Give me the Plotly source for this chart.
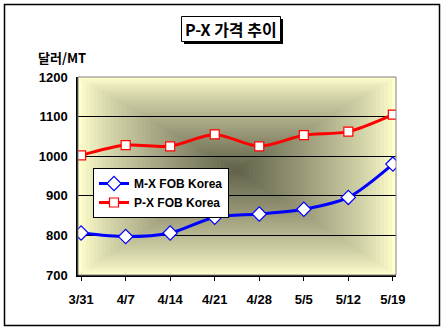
import plotly.graph_objects as go

categories = ["3/31", "4/7", "4/14", "4/21", "4/28", "5/5", "5/12", "5/19"]
mx_values = [806, 797, 806, 846, 854, 866, 896, 980]
px_values = [1002, 1028, 1025, 1055, 1025, 1053, 1062, 1105]
y_ticks = [700, 800, 900, 1000, 1100, 1200]

W, H = 445, 333
L, R, T, B = 78, 49, 77, 58

x_idx = list(range(len(categories)))

fig = go.Figure()
fig.add_trace(go.Scatter(
    x=x_idx, y=mx_values, name="M-X FOB Korea", mode="lines+markers",
    line=dict(color="#0000FF", width=3, shape="spline", smoothing=0.8),
    marker=dict(symbol="diamond", size=11, color="white", line=dict(color="#0000FF", width=1.2)),
))
fig.add_trace(go.Scatter(
    x=x_idx, y=px_values, name="P-X FOB Korea", mode="lines+markers",
    line=dict(color="#FF0000", width=3, shape="spline", smoothing=0.8),
    marker=dict(symbol="square", size=9, color="white", line=dict(color="#FF0000", width=1.2)),
))

def px2x(p):
    return (p - L) / (W - L - R)
def py2y(p):
    return 1 - (p - T) / (H - T - B)

# rectangular gradient background (styling)
shapes = []
cx, cy = 0.50, 0.53
N = 40
edge = (255, 255, 206)
center = (100, 100, 76)
for i in range(N):
    f = 1 - i / N
    t = (i / (N - 1)) ** 0.8
    c = tuple(round(edge[k] + (center[k] - edge[k]) * t) for k in range(3))
    shapes.append(dict(
        type="rect", xref="x domain", yref="y domain", layer="below",
        x0=cx - f * cx, x1=cx + f * (1 - cx), y0=cy - f * cy, y1=cy + f * (1 - cy),
        fillcolor="rgb(%d,%d,%d)" % c, line=dict(width=0),
    ))
# plot area border (gray)
shapes.append(dict(type="rect", xref="x domain", yref="y domain", x0=0, x1=1, y0=0, y1=1,
                   line=dict(color="#808080", width=1), layer="above"))
# outer border
shapes.append(dict(type="rect", xref="paper", yref="paper",
                   x0=px2x(4.5), x1=px2x(439.5), y0=py2y(325.5), y1=py2y(4.5),
                   line=dict(color="black", width=1.5)))
# title box with shadow
shapes.append(dict(type="rect", xref="paper", yref="paper",
                   x0=px2x(184), x1=px2x(283), y0=py2y(44), y1=py2y(19),
                   fillcolor="black", line=dict(width=0)))
shapes.append(dict(type="rect", xref="paper", yref="paper",
                   x0=px2x(181.5), x1=px2x(280.5), y0=py2y(41.5), y1=py2y(16.5),
                   fillcolor="white", line=dict(color="black", width=1)))

annotations = [
    dict(text="<b>P-X 가격 추이</b>", xref="paper", yref="paper", x=px2x(231), y=py2y(29),
         showarrow=False, font=dict(family="Noto Sans CJK KR, Arial", size=16, color="black"),
         xanchor="center", yanchor="middle"),
    dict(text="<b>달러/MT</b>", xref="paper", yref="paper", x=px2x(36), y=py2y(58),
         showarrow=False, font=dict(family="Noto Sans CJK KR, Arial", size=13, color="black"),
         xanchor="left", yanchor="middle"),
]

fig.update_layout(
    width=W, height=H,
    margin=dict(l=L, r=R, t=T, b=B),
    paper_bgcolor="white", plot_bgcolor="rgba(0,0,0,0)",
    shapes=shapes, annotations=annotations,
    font=dict(family="Liberation Sans, Arial", size=12, color="black"),
    showlegend=True,
    legend=dict(x=px2x(93), y=py2y(168), xanchor="left", yanchor="top",
                bgcolor="white", bordercolor="black", borderwidth=1,
                font=dict(family="Liberation Sans, Arial", size=12, color="black", weight="bold"),
                tracegroupgap=0, itemwidth=30),
)
fig.update_xaxes(
    range=[-0.07, 7.07], tickmode="array", tickvals=x_idx,
    ticktext=["<b>%s</b>" % c for c in categories],
    showgrid=False, zeroline=False, showline=True, linecolor="black", linewidth=1.5,
    ticks="outside", ticklen=4, tickcolor="black", ticklabelstandoff=8,
    tickfont=dict(size=13),
)
fig.update_yaxes(
    range=[700, 1200], tickmode="array", tickvals=y_ticks,
    ticktext=["<b>%d</b>" % v for v in y_ticks],
    showgrid=True, gridcolor="black", gridwidth=1, zeroline=False,
    showline=True, linecolor="black", linewidth=1.5, ticks="", ticklabelstandoff=6,
    tickfont=dict(size=13),
)

fig.write_html("out.html")
